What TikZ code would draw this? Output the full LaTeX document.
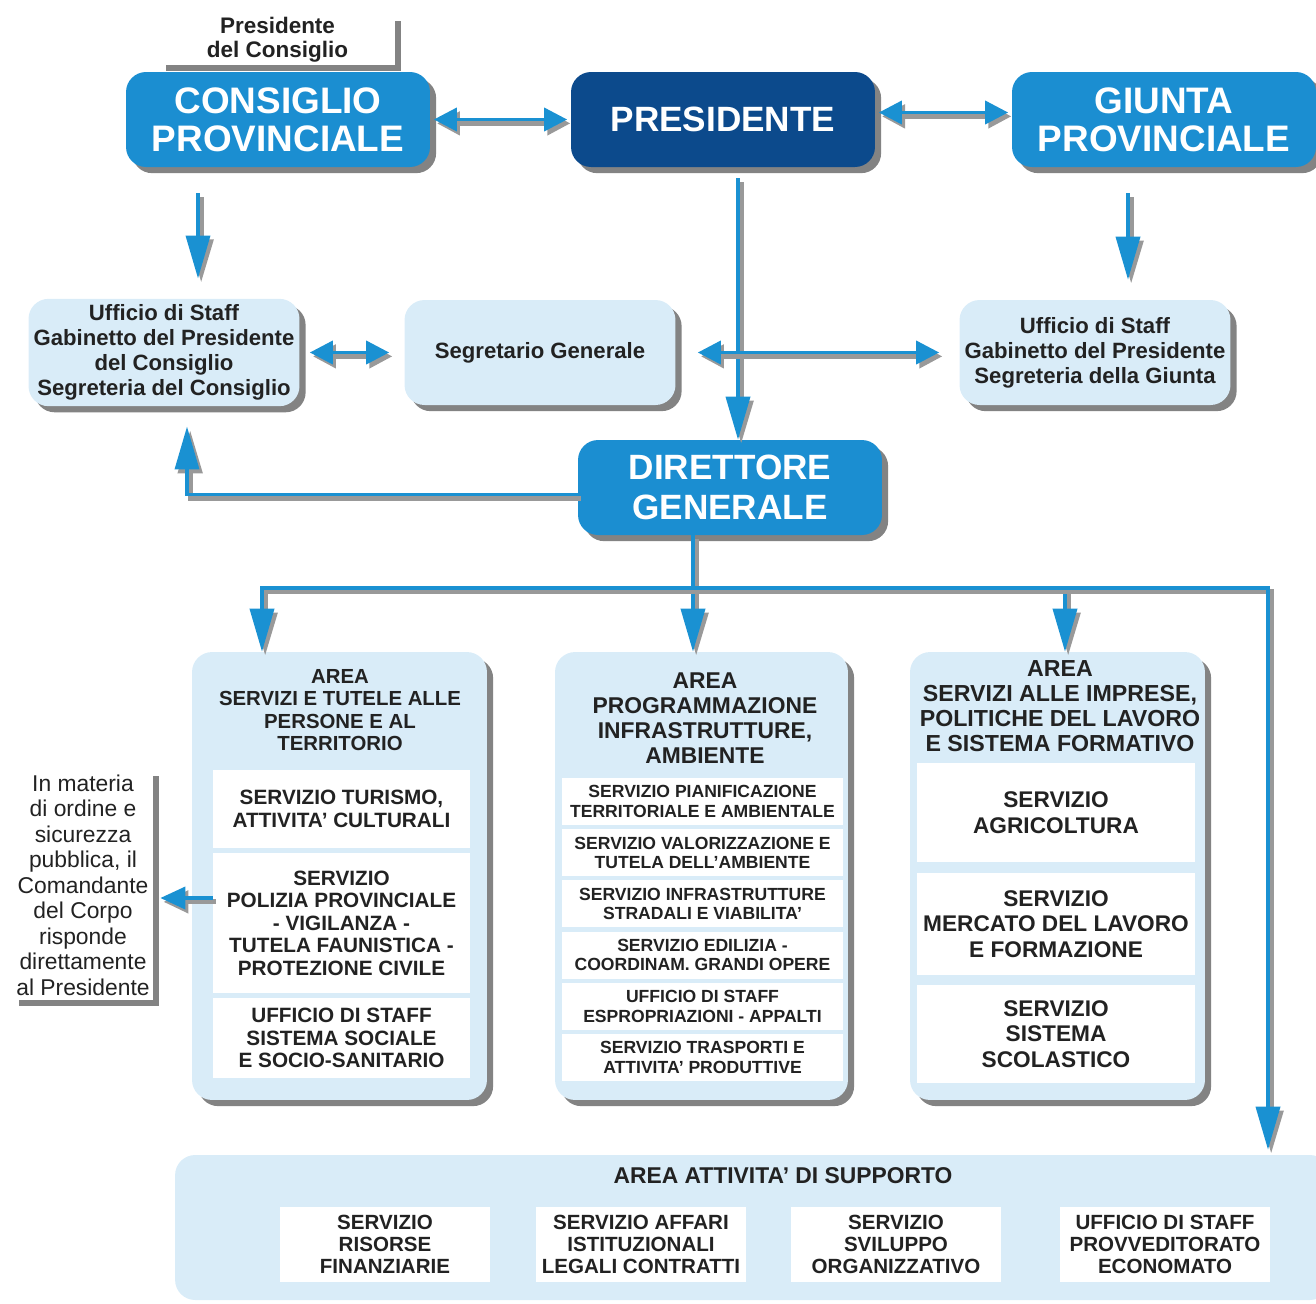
\documentclass[tikz,border=0pt]{standalone}
\usepackage{fontspec}
\setmainfont{Liberation Sans}
\usetikzlibrary{arrows.meta,calc,shadows}
\definecolor{headblue}{RGB}{27,142,209}
\definecolor{presblue}{RGB}{12,74,140}
\definecolor{arealight}{RGB}{217,236,248}
\definecolor{linkblue}{RGB}{26,145,210}
\definecolor{inktext}{RGB}{34,34,34}
\tikzset{
  boxshadow/.style={
    drop shadow={shadow xshift=3.5pt,shadow yshift=-3.5pt,fill=black!65,opacity=.75}
  },
  headbox/.style={
    fill=headblue,
    text=white,
    rounded corners=4mm,
    minimum width=6.08cm,
    minimum height=1.9cm,
    align=center,
    font=\bfseries\fontsize{21}{21.6}\selectfont,
    boxshadow
  },
  staffbox/.style={
    fill=arealight,
    text=inktext,
    rounded corners=4mm,
    minimum width=5.42cm,
    minimum height=2.1cm,
    inner xsep=0pt,
    align=center,
    font=\bfseries\fontsize{12.6}{14.2}\selectfont,
    boxshadow
  },
  areabox/.style={
    fill=arealight,
    rounded corners=4mm,
    minimum height=8.96cm,
    boxshadow
  },
  unitbox/.style={
    fill=white,
    text=inktext,
    inner sep=0pt,
    align=center
  },
  notebox/.style={
    fill=white,
    text=inktext,
    inner sep=0pt,
    align=center,
    boxshadow
  },
  link/.style={
    draw=linkblue,
    line width=2.1pt,
    preaction={draw=black!40,line width=2.8pt,
      transform canvas={xshift=1.8pt,yshift=-2.2pt}}
  },
  longtip/.style={-{Triangle[length=8.6mm,width=4.8mm]}},
  shorttip/.style={{Triangle[length=4.6mm,width=4.6mm]}-{Triangle[length=4.6mm,width=4.6mm]}}
}

\begin{document}
\begin{tikzpicture}[x=0.02cm,y=-0.02cm]
  \useasboundingbox (0,0) rectangle (1316,1303);

  % Points where the connectors bend or leave their boxes.
  \coordinate (consdrop) at (198,0);
  \coordinate (giuntadrop) at (1128,0);
  \coordinate (presdrop) at (738,0);
  \coordinate (bus) at (693,588);
  \coordinate (busL) at (262,588);
  \coordinate (busR) at (1065,588);
  \coordinate (busEnd) at (1268,588);
  \coordinate (backup) at (187,0);
  \coordinate (polrow) at (0,898);

  % Top level: council, president and executive.
  \node[notebox,minimum width=4.7cm,minimum height=1.0cm,
    font=\bfseries\fontsize{12.8}{13.7}\selectfont] (prescons) at (277.5,40)
    {Presidente\\del Consiglio};
  \node[headbox] (cons) at (278,119.5) {CONSIGLIO\\PROVINCIALE};
  \node[headbox,fill=presblue,font=\bfseries\fontsize{20}{21}\selectfont] (pres) at (723,119.5)
    {PRESIDENTE};
  \node[headbox] (giunta) at (1164,119.5) {GIUNTA\\PROVINCIALE};

  % Staff offices and general secretary.
  \node[staffbox] (staffL) at (164,352.5)
    {Ufficio di Staff\\Gabinetto del Presidente\\del Consiglio\\Segreteria del Consiglio};
  \node[staffbox] (segr) at (540,352.5) {Segretario Generale};
  \node[staffbox] (staffR) at (1095,352.5)
    {Ufficio di Staff\\Gabinetto del Presidente\\Segreteria della Giunta};

  \node[headbox,font=\bfseries\fontsize{20}{22.8}\selectfont] (dirgen) at (730,487.5)
    {DIRETTORE\\GENERALE};

  % The three areas under the general director.
  \node[areabox,minimum width=5.9cm] (areaL) at (339.5,876) {};
  \node[areabox,minimum width=5.86cm] (areaM) at (701.5,876) {};
  \node[areabox,minimum width=5.9cm] (areaR) at (1057.5,876) {};

  \node[align=center,text=inktext,font=\bfseries\fontsize{11.6}{12.8}\selectfont]
    (areaLtitle) at (340,710) {AREA\\SERVIZI E TUTELE ALLE\\PERSONE E AL\\TERRITORIO};
  \node[align=center,text=inktext,font=\bfseries\fontsize{13}{14.2}\selectfont]
    (areaMtitle) at (705,718) {AREA\\PROGRAMMAZIONE\\INFRASTRUTTURE,\\AMBIENTE};
  \node[align=center,text=inktext,font=\bfseries\fontsize{13.2}{14.2}\selectfont]
    (areaRtitle) at (1060,706)
    {AREA\\SERVIZI ALLE IMPRESE,\\POLITICHE DEL LAVORO\\E SISTEMA FORMATIVO};

  % Services of the first area.
  \begin{scope}[every node/.style={unitbox,minimum width=5.14cm,
      font=\bfseries\fontsize{11.8}{12.8}\selectfont}]
    \node[minimum height=1.56cm] (turismo) at (341.5,809)
      {SERVIZIO TURISMO,\\ATTIVITA' CULTURALI};
    \node[minimum height=2.8cm] (polizia) at (341.5,923)
      {SERVIZIO\\POLIZIA PROVINCIALE\\- VIGILANZA -\\TUTELA FAUNISTICA -\\PROTEZIONE CIVILE};
    \node[minimum height=1.6cm] (sociale) at (341.5,1038)
      {UFFICIO DI STAFF\\SISTEMA SOCIALE\\E SOCIO-SANITARIO};
  \end{scope}

  % Services of the second area.
  \begin{scope}[every node/.style={unitbox,minimum width=5.62cm,minimum height=0.94cm,
      font=\bfseries\fontsize{10}{11}\selectfont}]
    \node (pianif) at (702.5,801.5) {SERVIZIO PIANIFICAZIONE\\TERRITORIALE E AMBIENTALE};
    \node (valoriz) at (702.5,852.7) {SERVIZIO VALORIZZAZIONE E\\TUTELA DELL'AMBIENTE};
    \node (infra) at (702.5,903.9) {SERVIZIO INFRASTRUTTURE\\STRADALI E VIABILITA'};
    \node (edilizia) at (702.5,955.1) {SERVIZIO EDILIZIA -\\COORDINAM. GRANDI OPERE};
    \node (espropri) at (702.5,1006.3) {UFFICIO DI STAFF\\ESPROPRIAZIONI - APPALTI};
    \node (trasporti) at (702.5,1057.5) {SERVIZIO TRASPORTI E\\ATTIVITA' PRODUTTIVE};
  \end{scope}

  % Services of the third area.
  \begin{scope}[every node/.style={unitbox,minimum width=5.56cm,
      font=\bfseries\fontsize{12.9}{14.5}\selectfont}]
    \node[minimum height=1.98cm] (agri) at (1056,812.5) {SERVIZIO\\AGRICOLTURA};
    \node[minimum height=2.04cm] (mercato) at (1056,924)
      {SERVIZIO\\MERCATO DEL LAVORO\\E FORMAZIONE};
    \node[minimum height=1.96cm] (scuola) at (1056,1034) {SERVIZIO\\SISTEMA\\SCOLASTICO};
  \end{scope}

  % Side note on the provincial police.
  \node[notebox,minimum width=2.8cm,minimum height=4.6cm,
    font=\fontsize{13}{14.5}\selectfont] (note) at (83,885)
    {In materia\\di ordine e\\sicurezza\\pubblica, il\\Comandante\\del Corpo\\risponde\\direttamente\\al Presidente};

  % Support area along the bottom.
  \node[fill=arealight,rounded corners=4mm,minimum width=23.1cm,minimum height=2.9cm]
    (supp) at (752.5,1227.5) {};
  \node[text=inktext,font=\bfseries\fontsize{13}{14}\selectfont] (supptitle) at (783,1176)
    {AREA ATTIVITA' DI SUPPORTO};
  \begin{scope}[every node/.style={unitbox,minimum width=4.2cm,minimum height=1.5cm,
      font=\bfseries\fontsize{11.7}{12.5}\selectfont}]
    \node (risorse) at (385,1244.5) {SERVIZIO\\RISORSE\\FINANZIARIE};
    \node (affari) at (641,1244.5) {SERVIZIO AFFARI\\ISTITUZIONALI\\LEGALI CONTRATTI};
    \node (sviluppo) at (896,1244.5) {SERVIZIO\\SVILUPPO\\ORGANIZZATIVO};
    \node (provv) at (1165,1244.5) {UFFICIO DI STAFF\\PROVVEDITORATO\\ECONOMATO};
  \end{scope}

  % Connectors between the top boxes.
  \draw[link,shorttip,shorten <=2pt,shorten >=2pt] (cons.east) -- (pres.west);
  \draw[link,shorttip,shorten <=2pt,shorten >=2pt]
    ($(pres.east)+(0,-7)$) -- ($(giunta.west)+(0,-7)$);
  \draw[link,longtip,shorten <=0.52cm,shorten >=0.4cm]
    (cons.south -| consdrop) -- (staffL.north -| consdrop);
  \draw[link,longtip,shorten <=0.52cm,shorten >=0.4cm]
    (giunta.south -| giuntadrop) -- (staffR.north -| giuntadrop);
  \draw[link,longtip,shorten <=0.22cm] (pres.south -| presdrop) -- (dirgen.north -| presdrop);

  % Staff offices and secretary.
  \draw[link,shorttip,shorten <=0.2cm,shorten >=0.3cm] (staffL.east) -- (segr.west);
  \draw[link,shorttip,shorten <=0.44cm,shorten >=0.4cm] (segr.east) -- (staffR.west);
  \draw[link,longtip,shorten >=0.4cm]
    ($(dirgen.west)+(0,7)$) -| (staffL.south -| backup);

  % Distribution bus below the general director.
  \draw[link,longtip] (dirgen.south -| bus) -- (areaM.north -| bus);
  \draw[link,longtip] (bus) -| (areaL.north -| busL);
  \draw[link,longtip] (bus) -| (areaR.north -| busR);
  \draw[link,longtip,shorten >=0.1cm] (bus) -| (supp.north -| busEnd);

  % Police service reports to the note.
  \draw[link,longtip,shorten >=0.14cm,-{Triangle[length=5mm,width=4.4mm]}]
    (polizia.west |- polrow) -- (note.east |- polrow);

\end{tikzpicture}
\end{document}
